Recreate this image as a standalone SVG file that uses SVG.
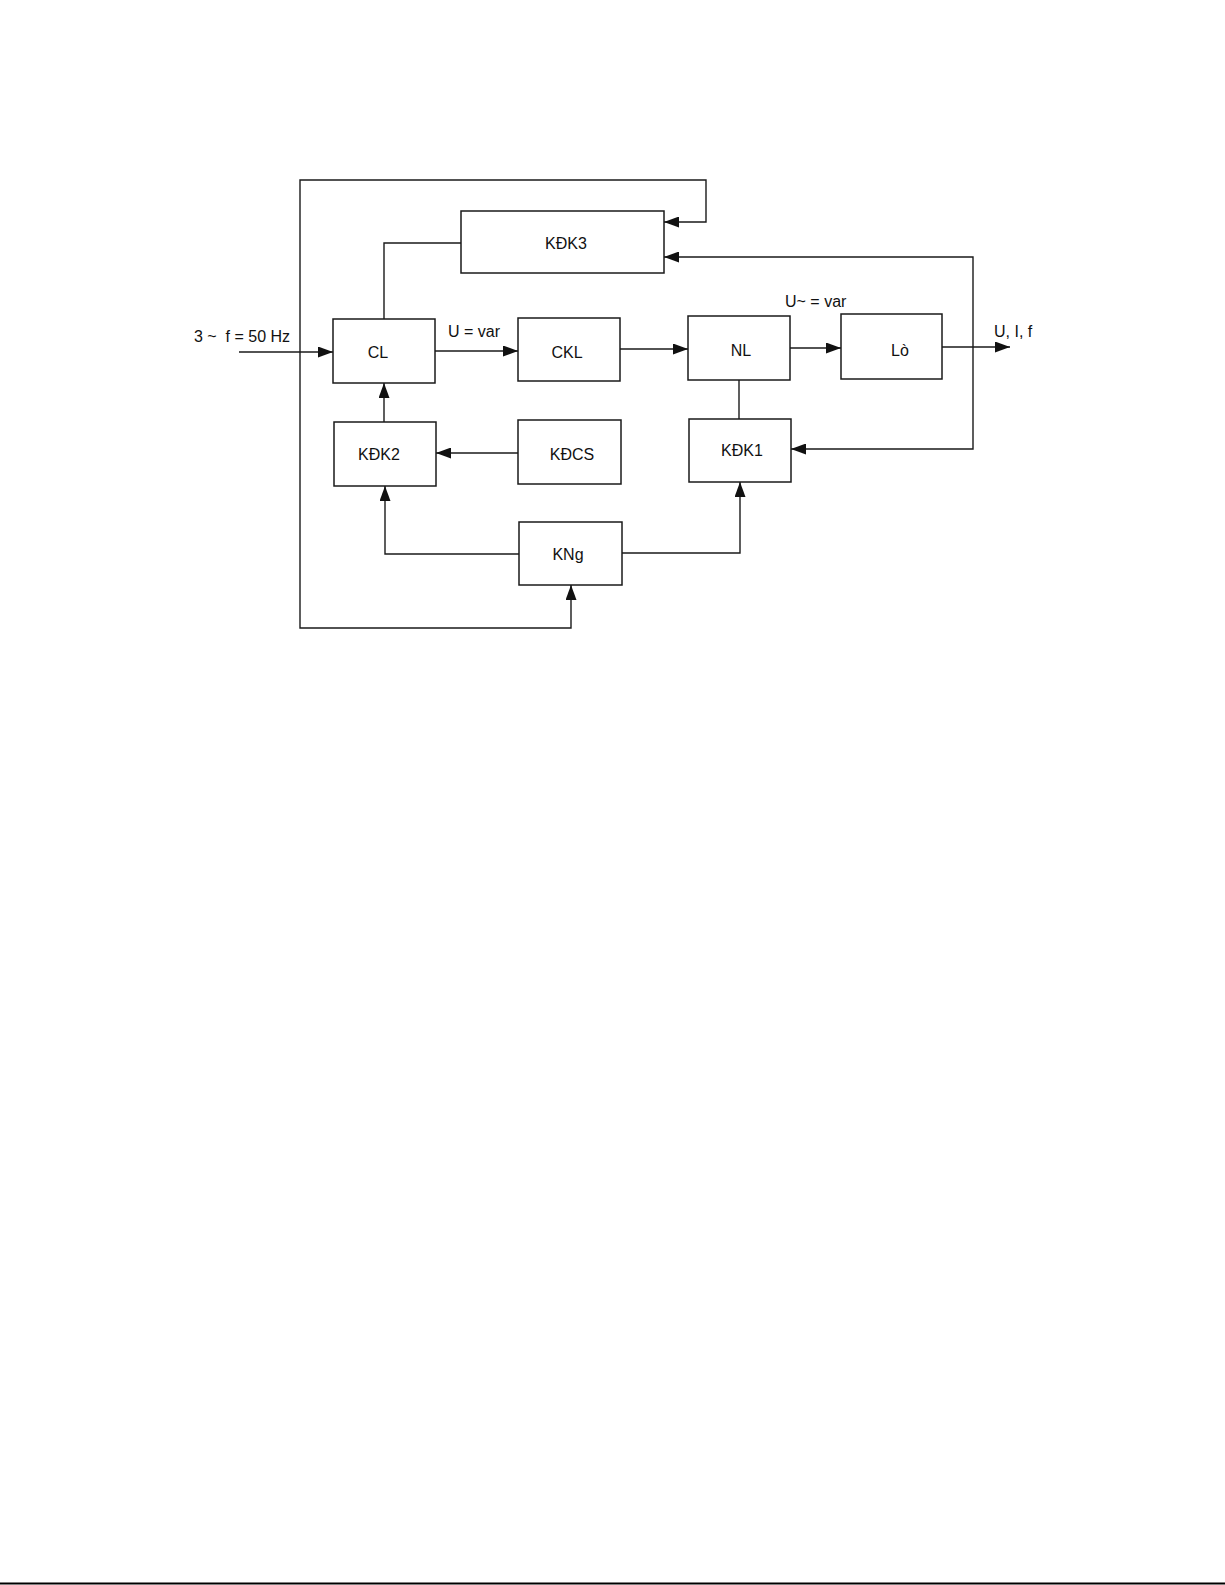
<svg xmlns="http://www.w3.org/2000/svg" width="1225" height="1585" viewBox="0 0 1225 1585">
<style>
.box{fill:#fff;stroke:#1a1a1a;stroke-width:1.5}
.ln{fill:none;stroke:#1a1a1a;stroke-width:1.4}
.t{font-family:"Liberation Sans",Arial,sans-serif;font-size:16px;fill:#111}
.c{text-anchor:middle}
</style>
<defs>
<marker id="ah" markerUnits="userSpaceOnUse" markerWidth="15" markerHeight="11" refX="15" refY="5.5" orient="auto-start-reverse">
<path d="M0,0 L15,5.5 L0,11 z" fill="#111"/>
</marker>
</defs>
<rect width="1225" height="1585" fill="#fff"/>
<g id="connectors">
<path class="ln" d="M239,352 H333" marker-end="url(#ah)"/>
<path class="ln" d="M435,351 H518" marker-end="url(#ah)"/>
<path class="ln" d="M620,349 H688" marker-end="url(#ah)"/>
<path class="ln" d="M790,348 H841" marker-end="url(#ah)"/>
<path class="ln" d="M942,347 H1010" marker-end="url(#ah)"/>
<path class="ln" d="M461,243 H384 V319"/>
<path class="ln" d="M571,585 V628 H300 V180 H706 V222 H664" marker-start="url(#ah)" marker-end="url(#ah)"/>
<path class="ln" d="M664,257 H973 V449 H791" marker-start="url(#ah)" marker-end="url(#ah)"/>
<path class="ln" d="M739,380 V419"/>
<path class="ln" d="M384,422 V383" marker-end="url(#ah)"/>
<path class="ln" d="M518,453 H436" marker-end="url(#ah)"/>
<path class="ln" d="M519,554 H385 V486" marker-end="url(#ah)"/>
<path class="ln" d="M622,553 H740 V482" marker-end="url(#ah)"/>
</g>
<g id="KDK3"><rect class="box" x="461" y="211" width="203" height="62"/><text class="t c" x="566" y="249">KĐK3</text></g>
<g id="CL"><rect class="box" x="333" y="319" width="102" height="64"/><text class="t c" x="378" y="358">CL</text></g>
<g id="CKL"><rect class="box" x="518" y="318" width="102" height="63"/><text class="t c" x="567" y="358">CKL</text></g>
<g id="NL"><rect class="box" x="688" y="316" width="102" height="64"/><text class="t c" x="741" y="356">NL</text></g>
<g id="Lo"><rect class="box" x="841" y="314" width="101" height="65"/><text class="t c" x="900" y="356">Lò</text></g>
<g id="KDK2"><rect class="box" x="334" y="422" width="102" height="64"/><text class="t c" x="379" y="460">KĐK2</text></g>
<g id="KDCS"><rect class="box" x="518" y="420" width="103" height="64"/><text class="t c" x="572" y="460">KĐCS</text></g>
<g id="KNg"><rect class="box" x="519" y="522" width="103" height="63"/><text class="t c" x="568" y="560">KNg</text></g>
<g id="KDK1"><rect class="box" x="689" y="419" width="102" height="63"/><text class="t c" x="742" y="456">KĐK1</text></g>
<g id="labels">
<text class="t" x="194" y="342" xml:space="preserve">3 ~  f = 50 Hz</text>
<text class="t" x="448" y="337">U = var</text>
<text class="t" x="785" y="307">U~ = var</text>
<text class="t" x="994" y="337">U, I, f</text>
</g>
<line x1="0" y1="1583.5" x2="1225" y2="1583.5" stroke="#000" stroke-width="2"/>
</svg>
